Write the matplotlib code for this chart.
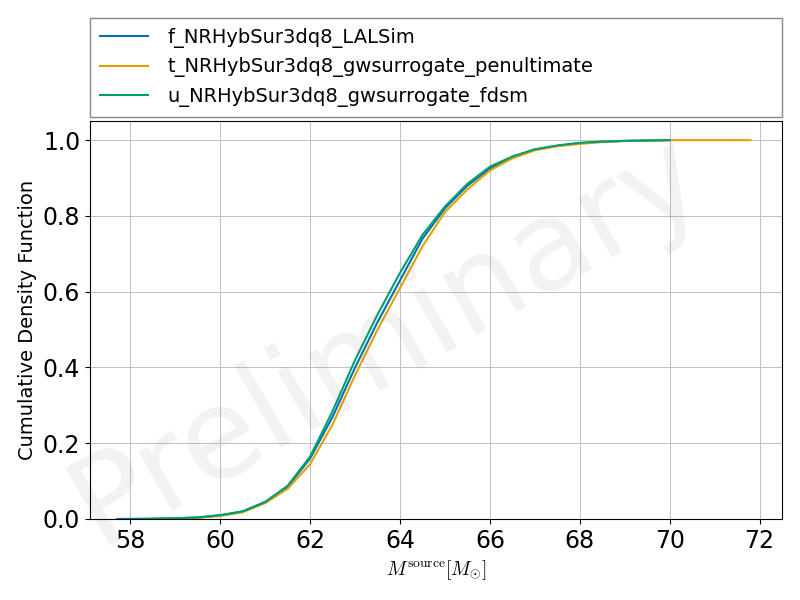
import matplotlib
matplotlib.use("Agg")
import matplotlib.pyplot as plt

plt.rcParams['mathtext.fontset'] = 'cm'

labels = ["f_NRHybSur3dq8_LALSim", "t_NRHybSur3dq8_gwsurrogate_penultimate", "u_NRHybSur3dq8_gwsurrogate_fdsm"]
colors = ["#0072B2", "#E69F00", "#009E73"]

x_f = [57.7, 58.5, 59, 59.5, 60, 60.5, 61, 61.5, 62, 62.5, 63, 63.5, 64, 64.5, 65, 65.5, 66, 66.5, 67, 67.5, 68, 68.5, 69, 70]
y_f = [0, 0.001, 0.002, 0.004, 0.01, 0.02, 0.045, 0.085, 0.16, 0.27, 0.40, 0.52, 0.63, 0.74, 0.82, 0.88, 0.925, 0.955, 0.975, 0.985, 0.992, 0.996, 0.998, 1.0]
x_t = [58.5, 59, 59.5, 60, 60.5, 61, 61.5, 62, 62.5, 63, 63.5, 64, 64.5, 65, 65.5, 66, 66.5, 67, 67.5, 68, 68.5, 69, 70, 71.8]
y_t = [0, 0.001, 0.003, 0.008, 0.018, 0.042, 0.08, 0.145, 0.25, 0.38, 0.50, 0.61, 0.72, 0.81, 0.87, 0.92, 0.952, 0.973, 0.984, 0.99, 0.995, 0.998, 1.0, 1.0]
x_u = [58.3, 59, 59.5, 60, 60.5, 61, 61.5, 62, 62.5, 63, 63.5, 64, 64.5, 65, 65.5, 66, 66.5, 67, 67.5, 68, 68.5, 69, 70]
y_u = [0, 0.002, 0.004, 0.01, 0.02, 0.045, 0.088, 0.165, 0.285, 0.42, 0.54, 0.65, 0.75, 0.825, 0.885, 0.93, 0.957, 0.976, 0.986, 0.993, 0.996, 0.998, 1.0]

fig = plt.figure(figsize=(8, 6), dpi=100)
ax = fig.add_axes([0.1125, 0.135, 0.865, 0.663])
for xs, ys, c, l in [(x_f, y_f, colors[0], labels[0]), (x_t, y_t, colors[1], labels[1]), (x_u, y_u, colors[2], labels[2])]:
    ax.plot(xs, ys, color=c, label=l, lw=1.5)
ax.set_xlim(57.1, 72.5)
ax.set_ylim(0, 1.05)
ax.set_xticks(range(58, 73, 2))
ax.grid(True, color="#c0c0c0", lw=0.7)
ax.tick_params(labelsize=17)
ax.set_ylabel("Cumulative Density Function", fontsize=14)
ax.set_xlabel(r"$M^{\rm source} [M_{\odot}]$", fontsize=14)
ax.text(0.43, 0.45, "Preliminary", transform=ax.transAxes, fontsize=90, color="gray",
        alpha=0.1, rotation=30, ha="center", va="center")
fig.legend(loc="upper left", bbox_to_anchor=(0.1125, 0.97, 0.865, 0.0), mode="expand",
           fontsize=14, fancybox=False, edgecolor="#888888", borderaxespad=0,
           handlelength=2.5, handletextpad=1.0, borderpad=0.5, framealpha=1)
fig.savefig("out.png")
